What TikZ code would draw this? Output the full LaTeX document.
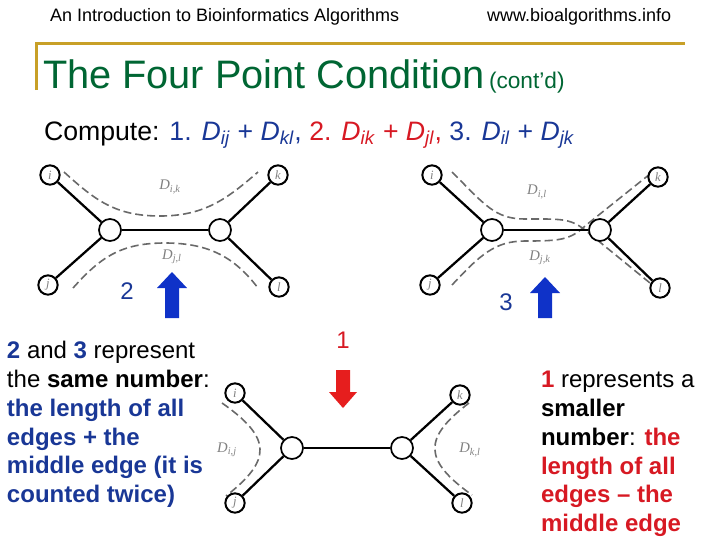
\documentclass[tikz,border=0pt]{standalone}
\usepackage{fontspec}
\setmainfont{Liberation Sans}
\newfontfamily\serifit{Liberation Serif}[ItalicFont=* Italic]
\definecolor{tblue}{RGB}{25,55,150}
\definecolor{tred}{RGB}{215,25,35}
\definecolor{ablue}{RGB}{15,50,200}
\definecolor{ared}{RGB}{230,30,30}
\definecolor{tgreen}{RGB}{0,102,51}
\definecolor{gold}{RGB}{200,160,40}
\definecolor{dgray}{RGB}{105,105,105}
\begin{document}
\begin{tikzpicture}[x=0.75pt,y=-0.75pt,
  txt/.style={anchor=base west, inner sep=0pt, outer sep=0pt},
  hdr/.style={txt, font=\fontsize{13.5}{16}\selectfont},
  body/.style={txt, font=\fontsize{18}{21}\selectfont},
  leaf/.style={circle, draw, line width=1.5pt, minimum size=14.5pt, inner sep=0pt, fill=white,
     font=\serifit\itshape\fontsize{9.5}{9.5}\selectfont, text=gray},
  inner/.style={circle, draw, line width=1.3pt, minimum size=16.5pt, inner sep=0pt, fill=white},
  edge/.style={line width=1.7pt},
  mid/.style={line width=0.8pt},
  dashcurve/.style={draw=dgray, line width=1.2pt, dash pattern=on 6pt off 3pt},
  dlab/.style={inner sep=0pt, text=gray, font=\serifit\itshape\fontsize{11}{11}\selectfont},
  bignum/.style={inner sep=0pt, font=\fontsize{18}{18}\selectfont}
]
\useasboundingbox (0,0) rectangle (720,540);

% header
\node[hdr] (h1) at (50,21) {An Introduction to Bioinformatics Algorithms};
\node[hdr] (h2) at (487,21) {www.bioalgorithms.info};
\draw[gold, line width=2.25pt] (36,90) -- (36,43) -- (685,43);

% title
\node[txt, text=tgreen, font=\fontsize{29.8}{32}\selectfont] (title) at (43,88) {The Four Point Condition};
\node[txt, text=tgreen, font=\fontsize{17}{20}\selectfont] (cont) at (489,88) {(cont’d)};

% compute line
\node[txt, font=\fontsize{20}{24}\selectfont] (comp) at (44,140) {Compute: \textcolor{tblue}{1. \textit{D}\textsubscript{\textit{ij}} + \textit{D}\textsubscript{\textit{kl}},} \textcolor{tred}{2. \textit{D}\textsubscript{\textit{ik}} + \textit{D}\textsubscript{\textit{jl}},} \textcolor{tblue}{3. \textit{D}\textsubscript{\textit{il}} + \textit{D}\textsubscript{\textit{jk}}}};

% ---------- diagram A (top left) ----------
\draw[dashcurve] (64,172) .. controls (95,200) and (115,216) .. (160,216) .. controls (205,216) and (228,198) .. (258,172);
\draw[dashcurve] (73,288) .. controls (100,258) and (120,243) .. (165,243) .. controls (210,243) and (235,258) .. (258,288);
\node[inner] (aL) at (110,230) {};
\node[inner] (aR) at (220,230) {};
\node[leaf] (ai) at (50,175) {i};
\node[leaf] (aj) at (48,285) {j};
\node[leaf] (ak) at (278,175) {k};
\node[leaf] (al) at (279,287) {l};
\draw[edge] (ai) -- (aL); \draw[edge] (aj) -- (aL);
\draw[edge] (ak) -- (aR); \draw[edge] (al) -- (aR);
\draw[mid] (aL) -- (aR);
\node[dlab] (aDik) at (170,187) {D\textsubscript{i,k}};
\node[dlab] (aDjl) at (172,257) {D\textsubscript{j,l}};
\fill[ablue] (165,318) -- (165,288) -- (157,288) -- (172,272) -- (187,288) -- (179,288) -- (179,318) -- cycle;
\node[bignum, text=tblue] (n2) at (127,291) {2};

% ---------- diagram B (top right) ----------
\draw[dashcurve] (452,172) .. controls (485,205) and (495,219) .. (525,219) .. controls (560,219) and (570,218) .. (585,230) -- (650,283);
\draw[dashcurve] (452,285) .. controls (480,255) and (495,241) .. (525,241) .. controls (560,241) and (570,240) .. (585,226) -- (650,174);
\node[inner] (bL) at (492,230) {};
\node[inner] (bR) at (600,230) {};
\node[leaf] (bi) at (432,175) {i};
\node[leaf] (bj) at (430,285) {j};
\node[leaf] (bk) at (658,177) {k};
\node[leaf] (bl) at (660,288) {l};
\draw[edge] (bi) -- (bL); \draw[edge] (bj) -- (bL);
\draw[edge] (bk) -- (bR); \draw[edge] (bl) -- (bR);
\draw[mid] (bL) -- (bR);
\node[dlab] (bDil) at (537,192) {D\textsubscript{i,l}};
\node[dlab] (bDjk) at (540,258) {D\textsubscript{j,k}};
\fill[ablue] (538,318) -- (538,293) -- (530,293) -- (545,277) -- (560,293) -- (552,293) -- (552,318) -- cycle;
\node[bignum, text=tblue] (n3) at (506,302) {3};

% ---------- diagram C (bottom) ----------
\draw[dashcurve] (222,403) .. controls (272,438) and (272,460) .. (226,496);
\draw[dashcurve] (469,403) .. controls (423,438) and (423,460) .. (472,495);
\node[inner] (cL) at (292,448) {};
\node[inner] (cR) at (402,448) {};
\node[leaf] (ci) at (235,393) {i};
\node[leaf] (cj) at (235,503) {j};
\node[leaf] (ck) at (460,395) {k};
\node[leaf] (cl) at (462,503) {l};
\draw[edge] (ci) -- (cL); \draw[edge] (cj) -- (cL);
\draw[edge] (ck) -- (cR); \draw[edge] (cl) -- (cR);
\draw[edge] (cL) -- (cR);
\node[dlab] (cDij) at (227,450) {D\textsubscript{i,j}};
\node[dlab] (cDkl) at (470,450) {D\textsubscript{k,l}};
\fill[ared] (336,370) -- (350,370) -- (350,392) -- (357,392) -- (343,408) -- (329,392) -- (336,392) -- cycle;
\node[bignum, text=tred] (n1) at (343,340) {1};

% ---------- left text ----------
\node[body] (l1) at (7,358) {\textbf{\textcolor{tblue}{2}} and \textbf{\textcolor{tblue}{3}} represent};
\node[body] (l2) at (7,387) {the \textbf{same number}:};
\node[body, text=tblue] (l3) at (7,416) {\textbf{the length of all}};
\node[body, text=tblue] (l4) at (7,445) {\textbf{edges + the}};
\node[body, text=tblue] (l5) at (7,473) {\textbf{middle edge (it is}};
\node[body, text=tblue] (l6) at (7,502) {\textbf{counted twice)}};

% ---------- right text ----------
\node[body] (r1) at (541,387) {\textbf{\textcolor{tred}{1}} represents a};
\node[body] (r2) at (541,416) {\textbf{smaller}};
\node[body] (r3) at (541,445) {\textbf{number}: \textbf{\textcolor{tred}{the}}};
\node[body, text=tred] (r4) at (541,474) {\textbf{length of all}};
\node[body, text=tred] (r5) at (541,502) {\textbf{edges – the}};
\node[body, text=tred] (r6) at (541,531) {\textbf{middle edge}};
\end{tikzpicture}
\end{document}
